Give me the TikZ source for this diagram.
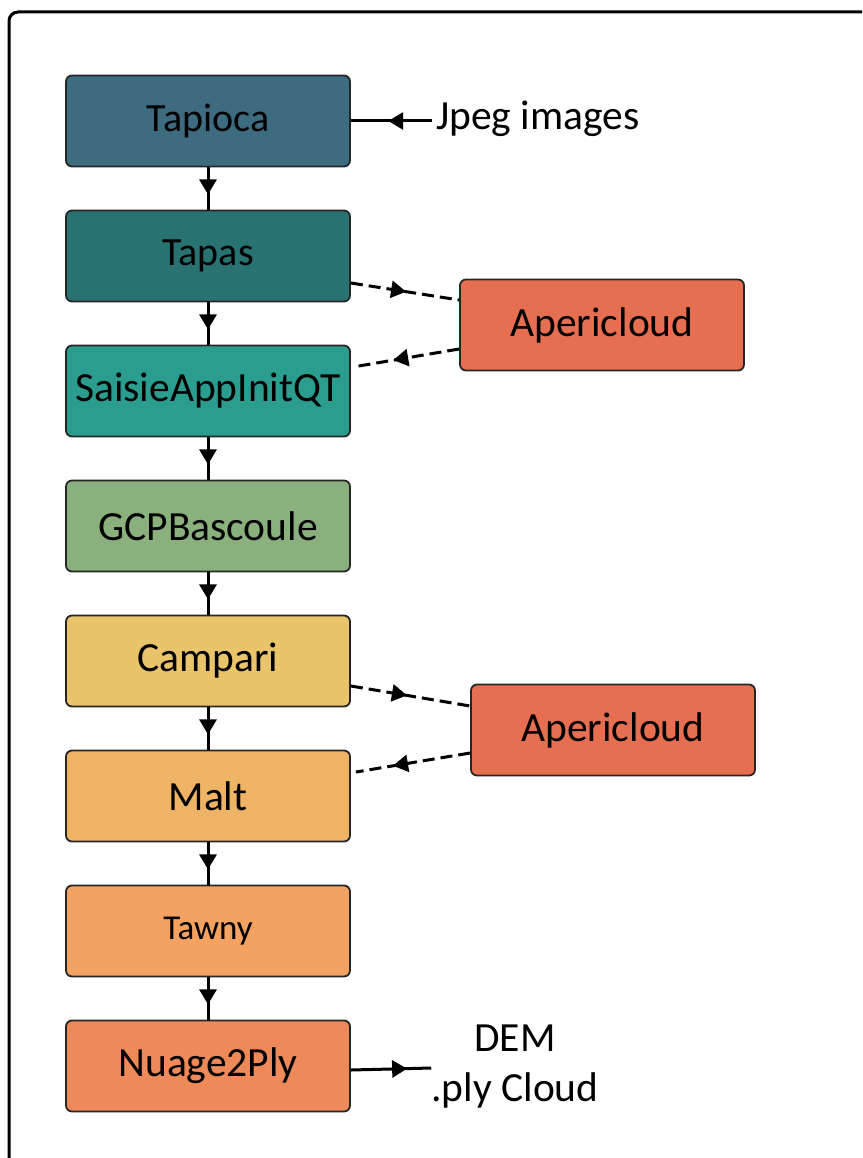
\documentclass[tikz,border=0pt]{standalone}
\usepackage{fontspec}
\setmainfont{Carlito}
\usetikzlibrary{arrows.meta,calc,decorations.markings}

\definecolor{cTapioca}{HTML}{3D6B80}
\definecolor{cTapas}{HTML}{287271}
\definecolor{cSaisie}{HTML}{2A9D8F}
\definecolor{cGCP}{HTML}{8AB17D}
\definecolor{cCampari}{HTML}{E9C46A}
\definecolor{cMalt}{HTML}{EFB366}
\definecolor{cTawny}{HTML}{F4A261}
\definecolor{cNuage}{HTML}{EE8959}
\definecolor{cAperi}{HTML}{E76F51}

\tikzset{
  stepbox/.style={draw=black!85, line width=1.8pt, rounded corners=6pt,
    minimum width=284pt, minimum height=91pt, inner sep=0pt,
    font=\fontsize{41.5pt}{48pt}\selectfont},
  tiptri/.tip={Triangle[length=15pt,width=17pt]},
  flowline/.style={line width=3pt},
  midarrow/.style={postaction={decorate},
    decoration={markings, mark=at position #1 with {\arrow{tiptri}}}},
  dashline/.style={line width=3pt, dash pattern=on 12pt off 6pt},
  label/.style={font=\fontsize{41.5pt}{50pt}\selectfont, inner sep=0pt},
}

\begin{document}
\begin{tikzpicture}[x=1pt,y=-1pt]
  \clip (0,0) rectangle (862,1158);
  \fill[white] (0,0) rectangle (862,1158);
  % outer frame
  \draw[line width=3pt, rounded corners=9pt] (9,1200) -- (9,12) -- (900,12);

  % processing chain
  \node[stepbox, fill=cTapioca, font=\fontsize{40pt}{48pt}\selectfont] (tapioca) at (208,121) {Tapioca};
  \node[stepbox, fill=cTapas, font=\fontsize{40pt}{48pt}\selectfont] (tapas) at (208,256) {Tapas};
  \node[stepbox, fill=cSaisie] (saisie) at (208,391) {SaisieAppInitQT};
  \node[stepbox, fill=cGCP] (gcp) at (208,526) {GCPBascoule};
  \node[stepbox, fill=cCampari] (campari) at (208,661) {Campari};
  \node[stepbox, fill=cMalt] (malt) at (208,796) {Malt};
  \node[stepbox, fill=cTawny, font=\fontsize{35pt}{42pt}\selectfont] (tawny) at (208,931) {Tawny};
  \node[stepbox, fill=cNuage] (nuage) at (208,1066) {Nuage2Ply};

  % side viewers
  \node[stepbox, fill=cAperi] (aperiA) at (602,325) {Apericloud};
  \node[stepbox, fill=cAperi] (aperiB) at (613,730) {Apericloud};

  % input / output labels
  \node[label, anchor=west] (jpeg) at (436,119) {Jpeg images};
  \node[label, align=center] (dem) at (515,1067) {DEM\\.ply Cloud};

  % vertical chain
  \foreach \a/\b in {tapioca/tapas, tapas/saisie, saisie/gcp, gcp/campari,
                     campari/malt, malt/tawny, tawny/nuage}
    \draw[flowline, midarrow=0.64] (\a.south) -- (\b.north);

  % input and output
  \draw[flowline, midarrow=0.54] ($(jpeg.west)+(-4,2)$) -- (tapioca.east);
  \draw[flowline, midarrow=0.7] ($(nuage.east)+(0,4)$) -- ($(dem.west)+(0,1)$);

  % viewer round trips
  \draw[dashline, midarrow=0.51] ($(tapas.east)+(0,27)$) -- ($(aperiA.west)+(0,-25)$);
  \draw[dashline, midarrow=0.62] ($(aperiA.west)+(0,24)$) -- ($(saisie.east)+(2,-24)$);
  \draw[dashline, midarrow=0.47] ($(campari.east)+(0,25)$) -- ($(aperiB.west)+(0,-24)$);
  \draw[dashline, midarrow=0.675] ($(aperiB.west)+(0,23)$) -- ($(malt.east)+(5,-24)$);
\end{tikzpicture}
\end{document}
